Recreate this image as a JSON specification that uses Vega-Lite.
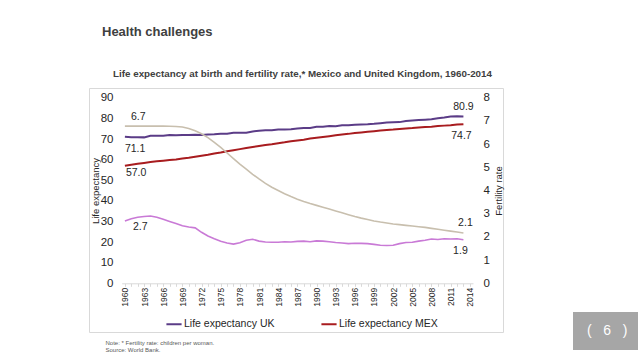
{
  "$schema": "https://vega.github.io/schema/vega-lite/v6.json",
  "autosize": {"type": "none"},
  "width": 414,
  "height": 244,
  "padding": {"left": 89, "top": 88, "right": 135, "bottom": 27},
  "background": "white",
  "config": {
    "font": "Liberation Sans",
    "view": {"stroke": "#d9d9d9", "strokeWidth": 1},
    "text": {"font": "Liberation Sans", "fontSize": 10.5, "color": "#262626", "baseline": "middle"}
  },
  "title": {
    "text": "Health challenges",
    "anchor": "start",
    "font": "Liberation Sans",
    "fontSize": 13,
    "fontWeight": "bold",
    "color": "#404040",
    "dx": 13,
    "offset": 30
  },
  "datasets": {
    "le": [
      {"year": 1960, "series": "Life expectancy UK", "value": 71.1},
      {"year": 1961, "series": "Life expectancy UK", "value": 70.9},
      {"year": 1962, "series": "Life expectancy UK", "value": 70.9},
      {"year": 1963, "series": "Life expectancy UK", "value": 70.8},
      {"year": 1964, "series": "Life expectancy UK", "value": 71.6},
      {"year": 1965, "series": "Life expectancy UK", "value": 71.6},
      {"year": 1966, "series": "Life expectancy UK", "value": 71.6},
      {"year": 1967, "series": "Life expectancy UK", "value": 72.0},
      {"year": 1968, "series": "Life expectancy UK", "value": 71.8},
      {"year": 1969, "series": "Life expectancy UK", "value": 71.9},
      {"year": 1970, "series": "Life expectancy UK", "value": 71.9},
      {"year": 1971, "series": "Life expectancy UK", "value": 72.1},
      {"year": 1972, "series": "Life expectancy UK", "value": 72.0},
      {"year": 1973, "series": "Life expectancy UK", "value": 72.2},
      {"year": 1974, "series": "Life expectancy UK", "value": 72.3},
      {"year": 1975, "series": "Life expectancy UK", "value": 72.6},
      {"year": 1976, "series": "Life expectancy UK", "value": 72.6},
      {"year": 1977, "series": "Life expectancy UK", "value": 73.0},
      {"year": 1978, "series": "Life expectancy UK", "value": 73.0},
      {"year": 1979, "series": "Life expectancy UK", "value": 73.1},
      {"year": 1980, "series": "Life expectancy UK", "value": 73.7},
      {"year": 1981, "series": "Life expectancy UK", "value": 74.0},
      {"year": 1982, "series": "Life expectancy UK", "value": 74.2},
      {"year": 1983, "series": "Life expectancy UK", "value": 74.3},
      {"year": 1984, "series": "Life expectancy UK", "value": 74.6},
      {"year": 1985, "series": "Life expectancy UK", "value": 74.6},
      {"year": 1986, "series": "Life expectancy UK", "value": 74.8},
      {"year": 1987, "series": "Life expectancy UK", "value": 75.1},
      {"year": 1988, "series": "Life expectancy UK", "value": 75.3},
      {"year": 1989, "series": "Life expectancy UK", "value": 75.4},
      {"year": 1990, "series": "Life expectancy UK", "value": 75.9},
      {"year": 1991, "series": "Life expectancy UK", "value": 76.0},
      {"year": 1992, "series": "Life expectancy UK", "value": 76.3},
      {"year": 1993, "series": "Life expectancy UK", "value": 76.2},
      {"year": 1994, "series": "Life expectancy UK", "value": 76.7},
      {"year": 1995, "series": "Life expectancy UK", "value": 76.7},
      {"year": 1996, "series": "Life expectancy UK", "value": 76.9},
      {"year": 1997, "series": "Life expectancy UK", "value": 77.1},
      {"year": 1998, "series": "Life expectancy UK", "value": 77.2},
      {"year": 1999, "series": "Life expectancy UK", "value": 77.4},
      {"year": 2000, "series": "Life expectancy UK", "value": 77.7},
      {"year": 2001, "series": "Life expectancy UK", "value": 78.0},
      {"year": 2002, "series": "Life expectancy UK", "value": 78.1},
      {"year": 2003, "series": "Life expectancy UK", "value": 78.2},
      {"year": 2004, "series": "Life expectancy UK", "value": 78.7},
      {"year": 2005, "series": "Life expectancy UK", "value": 79.0},
      {"year": 2006, "series": "Life expectancy UK", "value": 79.2},
      {"year": 2007, "series": "Life expectancy UK", "value": 79.4},
      {"year": 2008, "series": "Life expectancy UK", "value": 79.6},
      {"year": 2009, "series": "Life expectancy UK", "value": 80.1},
      {"year": 2010, "series": "Life expectancy UK", "value": 80.4},
      {"year": 2011, "series": "Life expectancy UK", "value": 80.9},
      {"year": 2012, "series": "Life expectancy UK", "value": 81.0},
      {"year": 2013, "series": "Life expectancy UK", "value": 80.9},
      {"year": 1960, "series": "Life expectancy MEX", "value": 57.0},
      {"year": 1961, "series": "Life expectancy MEX", "value": 57.5},
      {"year": 1962, "series": "Life expectancy MEX", "value": 58.0},
      {"year": 1963, "series": "Life expectancy MEX", "value": 58.4},
      {"year": 1964, "series": "Life expectancy MEX", "value": 58.8},
      {"year": 1965, "series": "Life expectancy MEX", "value": 59.2},
      {"year": 1966, "series": "Life expectancy MEX", "value": 59.5},
      {"year": 1967, "series": "Life expectancy MEX", "value": 59.8},
      {"year": 1968, "series": "Life expectancy MEX", "value": 60.1},
      {"year": 1969, "series": "Life expectancy MEX", "value": 60.5},
      {"year": 1970, "series": "Life expectancy MEX", "value": 60.9},
      {"year": 1971, "series": "Life expectancy MEX", "value": 61.4},
      {"year": 1972, "series": "Life expectancy MEX", "value": 61.9},
      {"year": 1973, "series": "Life expectancy MEX", "value": 62.4},
      {"year": 1974, "series": "Life expectancy MEX", "value": 63.0},
      {"year": 1975, "series": "Life expectancy MEX", "value": 63.5},
      {"year": 1976, "series": "Life expectancy MEX", "value": 64.1},
      {"year": 1977, "series": "Life expectancy MEX", "value": 64.6},
      {"year": 1978, "series": "Life expectancy MEX", "value": 65.1},
      {"year": 1979, "series": "Life expectancy MEX", "value": 65.6},
      {"year": 1980, "series": "Life expectancy MEX", "value": 66.1},
      {"year": 1981, "series": "Life expectancy MEX", "value": 66.6},
      {"year": 1982, "series": "Life expectancy MEX", "value": 67.1},
      {"year": 1983, "series": "Life expectancy MEX", "value": 67.5},
      {"year": 1984, "series": "Life expectancy MEX", "value": 68.0},
      {"year": 1985, "series": "Life expectancy MEX", "value": 68.4},
      {"year": 1986, "series": "Life expectancy MEX", "value": 68.9},
      {"year": 1987, "series": "Life expectancy MEX", "value": 69.3},
      {"year": 1988, "series": "Life expectancy MEX", "value": 69.7},
      {"year": 1989, "series": "Life expectancy MEX", "value": 70.2},
      {"year": 1990, "series": "Life expectancy MEX", "value": 70.6},
      {"year": 1991, "series": "Life expectancy MEX", "value": 71.0},
      {"year": 1992, "series": "Life expectancy MEX", "value": 71.4},
      {"year": 1993, "series": "Life expectancy MEX", "value": 71.8},
      {"year": 1994, "series": "Life expectancy MEX", "value": 72.2},
      {"year": 1995, "series": "Life expectancy MEX", "value": 72.5},
      {"year": 1996, "series": "Life expectancy MEX", "value": 72.9},
      {"year": 1997, "series": "Life expectancy MEX", "value": 73.2},
      {"year": 1998, "series": "Life expectancy MEX", "value": 73.5},
      {"year": 1999, "series": "Life expectancy MEX", "value": 73.8},
      {"year": 2000, "series": "Life expectancy MEX", "value": 74.1},
      {"year": 2001, "series": "Life expectancy MEX", "value": 74.4},
      {"year": 2002, "series": "Life expectancy MEX", "value": 74.6},
      {"year": 2003, "series": "Life expectancy MEX", "value": 74.9},
      {"year": 2004, "series": "Life expectancy MEX", "value": 75.1},
      {"year": 2005, "series": "Life expectancy MEX", "value": 75.3},
      {"year": 2006, "series": "Life expectancy MEX", "value": 75.6},
      {"year": 2007, "series": "Life expectancy MEX", "value": 75.8},
      {"year": 2008, "series": "Life expectancy MEX", "value": 76.0},
      {"year": 2009, "series": "Life expectancy MEX", "value": 76.3},
      {"year": 2010, "series": "Life expectancy MEX", "value": 76.5},
      {"year": 2011, "series": "Life expectancy MEX", "value": 76.7},
      {"year": 2012, "series": "Life expectancy MEX", "value": 77.0},
      {"year": 2013, "series": "Life expectancy MEX", "value": 77.2}
    ],
    "fert": [
      {"year": 1960, "series": "Fertility rate MEX", "value": 6.78},
      {"year": 1961, "series": "Fertility rate MEX", "value": 6.78},
      {"year": 1962, "series": "Fertility rate MEX", "value": 6.78},
      {"year": 1963, "series": "Fertility rate MEX", "value": 6.78},
      {"year": 1964, "series": "Fertility rate MEX", "value": 6.78},
      {"year": 1965, "series": "Fertility rate MEX", "value": 6.78},
      {"year": 1966, "series": "Fertility rate MEX", "value": 6.78},
      {"year": 1967, "series": "Fertility rate MEX", "value": 6.77},
      {"year": 1968, "series": "Fertility rate MEX", "value": 6.76},
      {"year": 1969, "series": "Fertility rate MEX", "value": 6.74},
      {"year": 1970, "series": "Fertility rate MEX", "value": 6.68},
      {"year": 1971, "series": "Fertility rate MEX", "value": 6.58},
      {"year": 1972, "series": "Fertility rate MEX", "value": 6.45},
      {"year": 1973, "series": "Fertility rate MEX", "value": 6.28},
      {"year": 1974, "series": "Fertility rate MEX", "value": 6.08},
      {"year": 1975, "series": "Fertility rate MEX", "value": 5.86},
      {"year": 1976, "series": "Fertility rate MEX", "value": 5.62},
      {"year": 1977, "series": "Fertility rate MEX", "value": 5.38},
      {"year": 1978, "series": "Fertility rate MEX", "value": 5.14},
      {"year": 1979, "series": "Fertility rate MEX", "value": 4.92},
      {"year": 1980, "series": "Fertility rate MEX", "value": 4.70},
      {"year": 1981, "series": "Fertility rate MEX", "value": 4.50},
      {"year": 1982, "series": "Fertility rate MEX", "value": 4.31},
      {"year": 1983, "series": "Fertility rate MEX", "value": 4.14},
      {"year": 1984, "series": "Fertility rate MEX", "value": 4.00},
      {"year": 1985, "series": "Fertility rate MEX", "value": 3.86},
      {"year": 1986, "series": "Fertility rate MEX", "value": 3.74},
      {"year": 1987, "series": "Fertility rate MEX", "value": 3.63},
      {"year": 1988, "series": "Fertility rate MEX", "value": 3.53},
      {"year": 1989, "series": "Fertility rate MEX", "value": 3.44},
      {"year": 1990, "series": "Fertility rate MEX", "value": 3.36},
      {"year": 1991, "series": "Fertility rate MEX", "value": 3.28},
      {"year": 1992, "series": "Fertility rate MEX", "value": 3.20},
      {"year": 1993, "series": "Fertility rate MEX", "value": 3.12},
      {"year": 1994, "series": "Fertility rate MEX", "value": 3.04},
      {"year": 1995, "series": "Fertility rate MEX", "value": 2.96},
      {"year": 1996, "series": "Fertility rate MEX", "value": 2.88},
      {"year": 1997, "series": "Fertility rate MEX", "value": 2.81},
      {"year": 1998, "series": "Fertility rate MEX", "value": 2.75},
      {"year": 1999, "series": "Fertility rate MEX", "value": 2.69},
      {"year": 2000, "series": "Fertility rate MEX", "value": 2.64},
      {"year": 2001, "series": "Fertility rate MEX", "value": 2.60},
      {"year": 2002, "series": "Fertility rate MEX", "value": 2.56},
      {"year": 2003, "series": "Fertility rate MEX", "value": 2.53},
      {"year": 2004, "series": "Fertility rate MEX", "value": 2.50},
      {"year": 2005, "series": "Fertility rate MEX", "value": 2.47},
      {"year": 2006, "series": "Fertility rate MEX", "value": 2.44},
      {"year": 2007, "series": "Fertility rate MEX", "value": 2.41},
      {"year": 2008, "series": "Fertility rate MEX", "value": 2.37},
      {"year": 2009, "series": "Fertility rate MEX", "value": 2.33},
      {"year": 2010, "series": "Fertility rate MEX", "value": 2.29},
      {"year": 2011, "series": "Fertility rate MEX", "value": 2.25},
      {"year": 2012, "series": "Fertility rate MEX", "value": 2.21},
      {"year": 2013, "series": "Fertility rate MEX", "value": 2.17},
      {"year": 1960, "series": "Fertility rate UK", "value": 2.69},
      {"year": 1961, "series": "Fertility rate UK", "value": 2.78},
      {"year": 1962, "series": "Fertility rate UK", "value": 2.85},
      {"year": 1963, "series": "Fertility rate UK", "value": 2.88},
      {"year": 1964, "series": "Fertility rate UK", "value": 2.90},
      {"year": 1965, "series": "Fertility rate UK", "value": 2.85},
      {"year": 1966, "series": "Fertility rate UK", "value": 2.76},
      {"year": 1967, "series": "Fertility rate UK", "value": 2.67},
      {"year": 1968, "series": "Fertility rate UK", "value": 2.58},
      {"year": 1969, "series": "Fertility rate UK", "value": 2.48},
      {"year": 1970, "series": "Fertility rate UK", "value": 2.43},
      {"year": 1971, "series": "Fertility rate UK", "value": 2.39},
      {"year": 1972, "series": "Fertility rate UK", "value": 2.20},
      {"year": 1973, "series": "Fertility rate UK", "value": 2.04},
      {"year": 1974, "series": "Fertility rate UK", "value": 1.92},
      {"year": 1975, "series": "Fertility rate UK", "value": 1.81},
      {"year": 1976, "series": "Fertility rate UK", "value": 1.74},
      {"year": 1977, "series": "Fertility rate UK", "value": 1.69},
      {"year": 1978, "series": "Fertility rate UK", "value": 1.75},
      {"year": 1979, "series": "Fertility rate UK", "value": 1.86},
      {"year": 1980, "series": "Fertility rate UK", "value": 1.90},
      {"year": 1981, "series": "Fertility rate UK", "value": 1.82},
      {"year": 1982, "series": "Fertility rate UK", "value": 1.78},
      {"year": 1983, "series": "Fertility rate UK", "value": 1.77},
      {"year": 1984, "series": "Fertility rate UK", "value": 1.77},
      {"year": 1985, "series": "Fertility rate UK", "value": 1.79},
      {"year": 1986, "series": "Fertility rate UK", "value": 1.78},
      {"year": 1987, "series": "Fertility rate UK", "value": 1.81},
      {"year": 1988, "series": "Fertility rate UK", "value": 1.82},
      {"year": 1989, "series": "Fertility rate UK", "value": 1.79},
      {"year": 1990, "series": "Fertility rate UK", "value": 1.83},
      {"year": 1991, "series": "Fertility rate UK", "value": 1.82},
      {"year": 1992, "series": "Fertility rate UK", "value": 1.79},
      {"year": 1993, "series": "Fertility rate UK", "value": 1.76},
      {"year": 1994, "series": "Fertility rate UK", "value": 1.74},
      {"year": 1995, "series": "Fertility rate UK", "value": 1.71},
      {"year": 1996, "series": "Fertility rate UK", "value": 1.73},
      {"year": 1997, "series": "Fertility rate UK", "value": 1.72},
      {"year": 1998, "series": "Fertility rate UK", "value": 1.71},
      {"year": 1999, "series": "Fertility rate UK", "value": 1.68},
      {"year": 2000, "series": "Fertility rate UK", "value": 1.64},
      {"year": 2001, "series": "Fertility rate UK", "value": 1.63},
      {"year": 2002, "series": "Fertility rate UK", "value": 1.64},
      {"year": 2003, "series": "Fertility rate UK", "value": 1.71},
      {"year": 2004, "series": "Fertility rate UK", "value": 1.76},
      {"year": 2005, "series": "Fertility rate UK", "value": 1.77},
      {"year": 2006, "series": "Fertility rate UK", "value": 1.82},
      {"year": 2007, "series": "Fertility rate UK", "value": 1.86},
      {"year": 2008, "series": "Fertility rate UK", "value": 1.91},
      {"year": 2009, "series": "Fertility rate UK", "value": 1.89},
      {"year": 2010, "series": "Fertility rate UK", "value": 1.92},
      {"year": 2011, "series": "Fertility rate UK", "value": 1.91},
      {"year": 2012, "series": "Fertility rate UK", "value": 1.92},
      {"year": 2013, "series": "Fertility rate UK", "value": 1.88}
    ]
  },
  "layer": [
    {
      "encoding": {
        "x": {
          "field": "year",
          "type": "ordinal",
          "scale": {
            "type": "point",
            "domain": [1960,1961,1962,1963,1964,1965,1966,1967,1968,1969,1970,1971,1972,1973,1974,1975,1976,1977,1978,1979,1980,1981,1982,1983,1984,1985,1986,1987,1988,1989,1990,1991,1992,1993,1994,1995,1996,1997,1998,1999,2000,2001,2002,2003,2004,2005,2006,2007,2008,2009,2010,2011,2012,2013,2014],
            "range": [32.7, 384],
            "padding": 0.5
          },
          "axis": {
            "orient": "bottom",
            "offset": -48.7,
            "labelAngle": -90,
            "labelAlign": "right",
            "labelBaseline": "middle",
            "labelFontSize": 8.5,
            "labelColor": "#262626",
            "labelPadding": 1,
            "labelExpr": "(datum.value - 1960) % 3 === 0 ? datum.value : ''",
            "labelOverlap": false,
            "tickColor": "#d9d9d9",
            "tickSize": 3,
            "domainColor": "#d9d9d9",
            "grid": false,
            "title": ["Note: * Fertility rate: children per woman.", "Source: World Bank."],
            "titleFontSize": 6,
            "titleFontWeight": "normal",
            "titleColor": "#595959",
            "titleAlign": "left",
            "titleAnchor": "start",
            "titleBaseline": "alphabetic",
            "titleLineHeight": 7.5,
            "titleX": 16,
            "titleY": 60.7
          }
        },
        "y": {
          "field": "value",
          "type": "quantitative",
          "scale": {"domain": [0, 90], "range": [195.3, 9.8], "nice": false, "zero": true},
          "axis": {
            "orient": "left",
            "offset": -28,
            "values": [0,10,20,30,40,50,60,70,80,90],
            "domain": false,
            "ticks": false,
            "grid": false,
            "labelOverlap": false,
            "labelPadding": 4,
            "labelFontSize": 11.5,
            "labelColor": "#262626",
            "title": "Life expectancy",
            "titleFontSize": 9.5,
            "titleFontWeight": "normal",
            "titleColor": "#262626",
            "titlePadding": 0
          }
        }
      },
      "layer": [
        {
          "data": {"name": "le"},
          "mark": {"type": "line", "strokeWidth": 2},
          "encoding": {
            "color": {
              "field": "series",
              "type": "nominal",
              "scale": {"domain": ["Life expectancy UK", "Life expectancy MEX"], "range": ["#5B3C87", "#A81C1F"]},
              "legend": {
                "title": null,
                "orient": "none",
                "legendX": 76,
                "legendY": 227,
                "direction": "horizontal",
                "symbolType": "stroke",
                "symbolSize": 230,
                "symbolStrokeWidth": 2,
                "labelFontSize": 10.5,
                "labelColor": "#262626",
                "labelOffset": 1,
                "columnPadding": 42,
                "padding": 0
              }
            }
          }
        },
        {
          "data": {"values": [{"year": 1960, "value": 71.1, "label": "71.1"}]},
          "mark": {"type": "text", "align": "left", "dx": 0, "dy": 12},
          "encoding": {"text": {"field": "label"}}
        },
        {
          "data": {"values": [{"year": 1960, "value": 57.0, "label": "57.0"}]},
          "mark": {"type": "text", "align": "left", "dx": 1, "dy": 7},
          "encoding": {"text": {"field": "label"}}
        },
        {
          "data": {"values": [{"year": 2013, "value": 80.9, "label": "80.9"}]},
          "mark": {"type": "text", "align": "center", "dx": 0, "dy": -10},
          "encoding": {"text": {"field": "label"}}
        },
        {
          "data": {"values": [{"year": 2013, "value": 74.7, "label": "74.7"}]},
          "mark": {"type": "text", "align": "center", "dx": -2, "dy": 7},
          "encoding": {"text": {"field": "label"}}
        }
      ]
    },
    {
      "encoding": {
        "x": {
          "field": "year",
          "type": "ordinal",
          "axis": {
            "orient": "top",
            "labels": false,
            "ticks": false,
            "domain": false,
            "grid": false,
            "title": "Life expectancy at birth and fertility rate,* Mexico and United Kingdom, 1960-2014",
            "titleFontSize": 9.8,
            "titleFontWeight": "bold",
            "titleColor": "#404040",
            "titleAlign": "center",
            "titleBaseline": "alphabetic",
            "titleX": 213,
            "titleY": -11.5
          }
        },
        "y": {
          "field": "value",
          "type": "quantitative",
          "scale": {"domain": [0, 8], "range": [195.3, 9.8], "nice": false, "zero": true},
          "axis": {
            "orient": "right",
            "offset": -25,
            "values": [0,1,2,3,4,5,6,7,8],
            "domain": false,
            "ticks": false,
            "grid": false,
            "labelOverlap": false,
            "labelPadding": 5,
            "labelFontSize": 11.5,
            "labelColor": "#262626",
            "title": "Fertility rate",
            "titleAngle": -90,
            "titleBaseline": "top",
            "titleFontSize": 9.5,
            "titleFontWeight": "normal",
            "titleColor": "#262626",
            "titlePadding": 4
          }
        }
      },
      "layer": [
        {
          "data": {"name": "fert"},
          "mark": {"type": "line", "strokeWidth": 1.6},
          "encoding": {
            "color": {
              "field": "series",
              "type": "nominal",
              "scale": {"domain": ["Fertility rate MEX", "Fertility rate UK"], "range": ["#C8BFAE", "#C97AD6"]},
              "legend": null
            }
          }
        },
        {
          "data": {"values": [{"year": 1960, "value": 6.7, "label": "6.7"}]},
          "mark": {"type": "text", "align": "left", "dx": 6, "dy": -11},
          "encoding": {"text": {"field": "label"}}
        },
        {
          "data": {"values": [{"year": 1960, "value": 2.7, "label": "2.7"}]},
          "mark": {"type": "text", "align": "left", "dx": 8, "dy": 6.5},
          "encoding": {"text": {"field": "label"}}
        },
        {
          "data": {"values": [{"year": 2013, "value": 2.1, "label": "2.1", "page": "6"}]},
          "mark": {"type": "text", "align": "center", "dx": 2, "dy": -12},
          "encoding": {
            "text": {"field": "label"},
            "opacity": {
              "field": "page",
              "type": "nominal",
              "scale": {"range": [1, 1]},
              "legend": {
                "title": null,
                "orient": "none",
                "legendX": 484,
                "legendY": 224,
                "fillColor": "#a6a6a6",
                "padding": 12,
                "symbolType": "M0,0",
                "symbolSize": 4,
                "symbolFillColor": "transparent",
                "symbolStrokeColor": "transparent",
                "symbolStrokeWidth": 0,
                "labelOffset": -12,
                "labelFontSize": 14,
                "labelColor": "#ffffff",
                "labelExpr": "'(\u00a0\u00a0\u00a0' + datum.label + '\u00a0\u00a0\u00a0)'"
              }
            }
          }
        },
        {
          "data": {"values": [{"year": 2013, "value": 1.9, "label": "1.9"}]},
          "mark": {"type": "text", "align": "center", "dx": -3, "dy": 11.5},
          "encoding": {"text": {"field": "label"}}
        }
      ]
    }
  ],
  "resolve": {
    "scale": {"y": "independent", "color": "independent"},
    "axis": {"x": "independent"}
  }
}
